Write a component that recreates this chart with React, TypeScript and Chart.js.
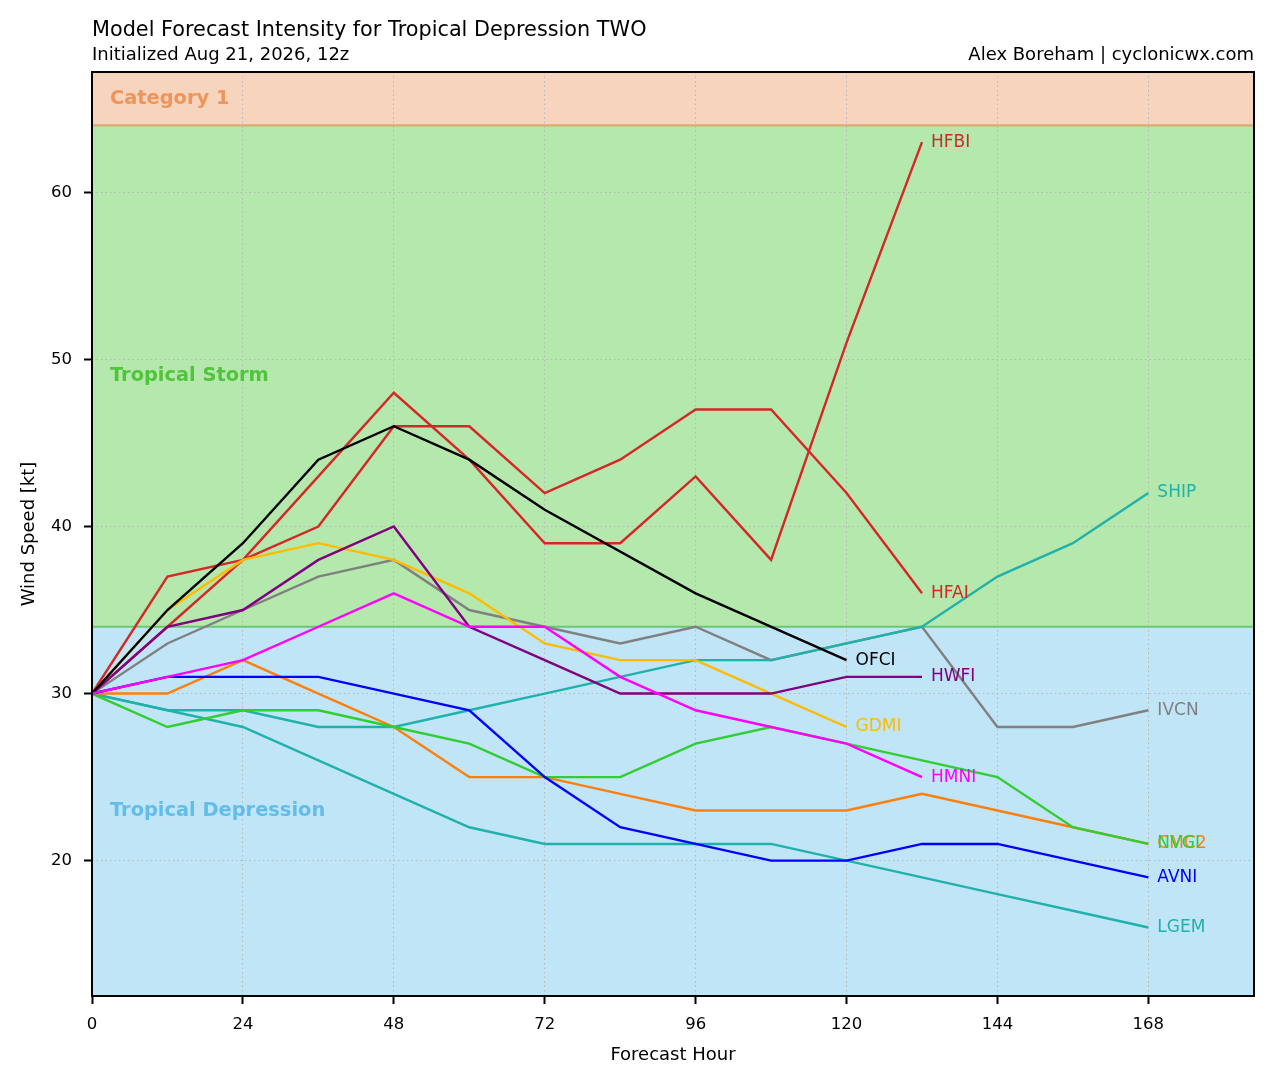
import { useEffect, useRef } from 'react';
import { Chart, registerables } from 'chart.js';

Chart.register(...registerables);

// forecast hours and the axis ticks
const hours = [0, 12, 24, 36, 48, 60, 72, 84, 96, 108, 120, 132, 144, 156, 168];
const xTicks = [0, 24, 48, 72, 96, 120, 144, 168];
const yTicks = [20, 30, 40, 50, 60];

// model intensity forecasts (kt), one value per forecast hour
const hfai = [30, 37, 38, 40, 46, 46, 42, 44, 47, 47, 42, 36];
const hfbi = [30, 34, 38, 43, 48, 44, 39, 39, 43, 38, 51, 63];
const ivcn = [30, 33, 35, 37, 38, 35, 34, 33, 34, 32, 33, 34, 28, 28, 29];
const ship = [30, 29, 29, 28, 28, 29, 30, 31, 32, 32, 33, 34, 37, 39, 42];
const lgem = [30, 29, 28, 26, 24, 22, 21, 21, 21, 21, 20, 19, 18, 17, 16];
const cmc2 = [30, 30, 32, 30, 28, 25, 25, 24, 23, 23, 23, 24, 23, 22, 21];
const nvgi = [30, 28, 29, 29, 28, 27, 25, 25, 27, 28, 27, 26, 25, 22, 21];
const avni = [30, 31, 31, 31, 30, 29, 25, 22, 21, 20, 20, 21, 21, 20, 19];
const gdmi = [30, 35, 38, 39, 38, 36, 33, 32, 32, 30, 28];
const hwfi = [30, 34, 35, 38, 40, 34, 32, 30, 30, 30, 31, 31];
const ofci = [30, 35, 39, 44, 46, 44, 41, null, 36, null, 32];
const hmni = [30, 31, 32, 34, 36, 34, 34, 31, 29, 28, 27, 25];

// category thresholds (kt)
const tsMin = 34;
const cat1Min = 64;

interface Model {
  name: string;
  color: string;
  values: (number | null)[];
}

// listed bottom to top
const models: Model[] = [
  { name: 'HFAI', color: '#d62728', values: hfai },
  { name: 'HFBI', color: '#d62728', values: hfbi },
  { name: 'IVCN', color: '#808080', values: ivcn },
  { name: 'SHIP', color: '#20b2aa', values: ship },
  { name: 'LGEM', color: '#20b2aa', values: lgem },
  { name: 'CMC2', color: '#ff7f0e', values: cmc2 },
  { name: 'NVGI', color: '#32cd32', values: nvgi },
  { name: 'AVNI', color: '#0000ff', values: avni },
  { name: 'GDMI', color: '#ffbb00', values: gdmi },
  { name: 'HWFI', color: '#800080', values: hwfi },
  { name: 'OFCI', color: '#000000', values: ofci },
  { name: 'HMNI', color: '#ff00ff', values: hmni },
];

const FONT = "'DejaVu Sans', 'Liberation Sans', sans-serif";

const lastPoint = (m: Model) => {
  for (let i = m.values.length - 1; i >= 0; i--) {
    if (m.values[i] != null) return { x: hours[i], y: m.values[i] as number };
  }
  return null;
};

const overlayPlugin = {
  id: 'overlay',
  beforeDraw(chart: any) {
    const { ctx, chartArea: a, scales } = chart;
    const y34 = scales.y.getPixelForValue(tsMin);
    const y64 = scales.y.getPixelForValue(cat1Min);
    ctx.save();
    ctx.fillStyle = '#bfe5f7';
    ctx.fillRect(a.left, y34, a.right - a.left, a.bottom - y34);
    ctx.fillStyle = '#b5e8ad';
    ctx.fillRect(a.left, y64, a.right - a.left, y34 - y64);
    ctx.fillStyle = '#f7d4be';
    ctx.fillRect(a.left, a.top, a.right - a.left, y64 - a.top);
    ctx.restore();
  },
  beforeDatasetsDraw(chart: any) {
    const { ctx, chartArea: a, scales } = chart;
    const ys = scales.y;
    const y34 = ys.getPixelForValue(tsMin);
    const y64 = ys.getPixelForValue(cat1Min);
    ctx.save();
    ctx.lineWidth = 2.2;
    ctx.strokeStyle = '#d8ad74';
    ctx.beginPath();
    ctx.moveTo(a.left, y64);
    ctx.lineTo(a.right, y64);
    ctx.stroke();
    ctx.strokeStyle = '#6cc870';
    ctx.beginPath();
    ctx.moveTo(a.left, y34);
    ctx.lineTo(a.right, y34);
    ctx.stroke();

    // band names in the middle of each visible band
    ctx.font = `bold 19.4px ${FONT}`;
    ctx.textAlign = 'left';
    ctx.textBaseline = 'middle';
    const x = a.left + 18;
    ctx.fillStyle = '#f0955a';
    ctx.fillText('Category 1', x, (a.top + y64) / 2);
    ctx.fillStyle = '#52c43c';
    ctx.fillText('Tropical Storm', x, (y64 + y34) / 2);
    ctx.fillStyle = '#62bdea';
    ctx.fillText('Tropical Depression', x, (y34 + a.bottom) / 2);
    ctx.restore();
  },
  afterDatasetsDraw(chart: any) {
    const { ctx, scales } = chart;
    ctx.save();
    ctx.font = `17px ${FONT}`;
    ctx.textAlign = 'left';
    ctx.textBaseline = 'middle';
    models.forEach((m) => {
      const p = lastPoint(m);
      if (!p) return;
      ctx.fillStyle = m.color;
      ctx.fillText(m.name, scales.x.getPixelForValue(p.x) + 9, scales.y.getPixelForValue(p.y));
    });
    ctx.restore();
  },
  afterDraw(chart: any) {
    const { ctx, chartArea: a } = chart;
    ctx.save();
    ctx.strokeStyle = '#000';
    ctx.lineWidth = 2;
    ctx.strokeRect(a.left, a.top, a.right - a.left, a.bottom - a.top);

    ctx.fillStyle = '#000';
    ctx.textBaseline = 'alphabetic';
    ctx.textAlign = 'left';
    ctx.font = `20.8px ${FONT}`;
    ctx.fillText('Model Forecast Intensity for Tropical Depression TWO', a.left, 36);
    ctx.font = `18px ${FONT}`;
    ctx.fillText('Initialized Aug 21, 2026, 12z', a.left, 60);
    ctx.textAlign = 'right';
    ctx.fillText('Alex Boreham | cyclonicwx.com', a.right, 60);

    ctx.textAlign = 'center';
    ctx.fillText('Forecast Hour', (a.left + a.right) / 2, 1060);
    ctx.translate(34, (a.top + a.bottom) / 2);
    ctx.rotate(-Math.PI / 2);
    ctx.fillText('Wind Speed [kt]', 0, 0);
    ctx.restore();
  },
};

const App = () => {
  const canvasRef = useRef(null as HTMLCanvasElement | null);
  const chartRef = useRef(null as any);

  useEffect(() => {
    document.body.style.margin = '0';
    if (!canvasRef.current) return;
    const ctx = canvasRef.current.getContext('2d');
    if (!ctx) return;
    if (chartRef.current) chartRef.current.destroy();

    const n = models.length;
    const datasets = models.map((m, i) => ({
      label: m.name,
      data: hours
        .map((h, j) => ({ x: h, y: m.values[j] }))
        .filter((p, j) => j < m.values.length),
      borderColor: m.color,
      backgroundColor: m.color,
      borderWidth: 2.4,
      pointRadius: 0,
      pointHoverRadius: 0,
      tension: 0,
      fill: false,
      spanGaps: true,
      order: n - i,
    }));

    const tickFont = { family: FONT, size: 16.5 };

    chartRef.current = new Chart(ctx, {
      type: 'line',
      data: { datasets },
      plugins: [overlayPlugin],
      options: {
        responsive: false,
        animation: false,
        events: [],
        layout: { padding: { top: 72, right: 20, left: 0, bottom: 0 } },
        plugins: {
          legend: { display: false },
          tooltip: { enabled: false },
        },
        scales: {
          x: {
            type: 'linear',
            min: 0,
            max: 184.8,
            afterBuildTicks: (s: any) => {
              s.ticks = xTicks.map((v) => ({ value: v }));
            },
            afterFit: (s: any) => {
              s.height = 87;
            },
            ticks: { color: '#000', font: tickFont, padding: 11, maxRotation: 0 },
            grid: {
              color: '#b8b8b8',
              lineWidth: 1,
              tickColor: '#000',
              tickLength: 8,
              tickWidth: 2,
            },
            border: { display: false, dash: [1.5, 3] },
          },
          y: {
            type: 'linear',
            min: 11.9,
            max: 67.2,
            afterBuildTicks: (s: any) => {
              s.ticks = yTicks.map((v) => ({ value: v }));
            },
            afterFit: (s: any) => {
              s.width = 92;
            },
            ticks: { color: '#000', font: tickFont, padding: 12 },
            grid: {
              color: '#b8b8b8',
              lineWidth: 1,
              tickColor: '#000',
              tickLength: 8,
              tickWidth: 2,
            },
            border: { display: false, dash: [1.5, 3] },
          },
        },
      } as any,
    });

    return () => {
      if (chartRef.current) {
        chartRef.current.destroy();
        chartRef.current = null;
      }
    };
  }, []);

  return (
    <div style={{ width: 1274, height: 1083, background: '#fff' }}>
      <canvas ref={canvasRef} width={1274} height={1083} />
    </div>
  );
};

export default App;
